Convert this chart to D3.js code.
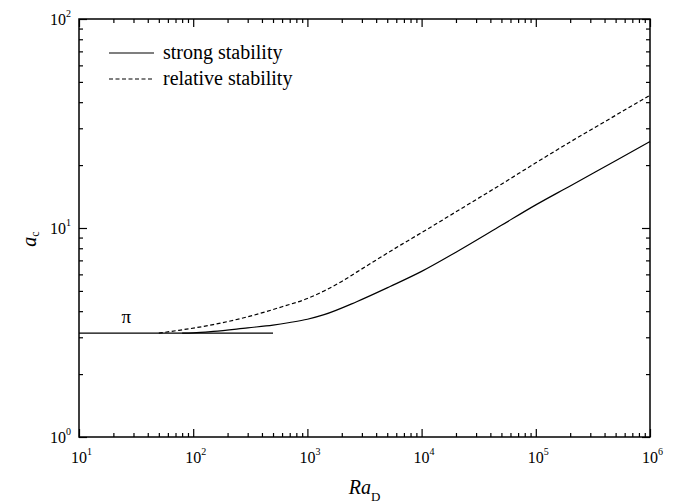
<!DOCTYPE html>
<html>
<head>
<meta charset="utf-8">
<script src="https://cdn.jsdelivr.net/npm/d3@7"></script>
<style>
  body { margin: 0; background: #fff; }
</style>
</head>
<body>
<div id="chart"></div>
<script>
// Data (Ra_D vs critical wavenumber a_c)
const strongRa = [80, 100, 150, 300, 500, 700, 1000, 1400, 2700, 5300, 10000, 20000, 50000, 100000, 200000, 500000, 1000000];
const strongA  = [3.1416, 3.15, 3.2, 3.33, 3.43, 3.53, 3.66, 3.85, 4.44, 5.25, 6.2, 7.66, 10.3, 12.9, 15.9, 21.0, 25.9];

const relativeRa = [50, 75, 150, 300, 600, 1000, 1400, 2000, 2700, 4300, 6700, 10000, 20000, 50000, 100000, 200000, 500000, 1000000];
const relativeA  = [3.1416, 3.24, 3.45, 3.76, 4.2, 4.6, 5.0, 5.55, 6.15, 7.2, 8.35, 9.5, 11.95, 16.2, 20.5, 25.8, 34.6, 43.2];

// horizontal asymptote a = pi
const piRa = [10, 500];
const piA  = [Math.PI, Math.PI];

const xMajor = [10, 100, 1e3, 1e4, 1e5, 1e6];
const yMajor = [1, 10, 100];

const legendLabels = ["strong stability", "relative stability"];

const FONT = "Liberation Serif, DejaVu Serif, Times New Roman, Times, serif";

const W = 675, H = 503;
const margin = { top: 19, right: 25, bottom: 66, left: 79 };
const width = W - margin.left - margin.right;   // 571
const height = H - margin.top - margin.bottom;  // 418

const svg = d3.select("#chart").append("svg")
    .attr("width", W)
    .attr("height", H)
    .style("font-family", FONT);

const x = d3.scaleLog().domain([10, 1e6]).range([margin.left, margin.left + width]);
const y = d3.scaleLog().domain([1, 100]).range([margin.top + height, margin.top]);

const xMinor = x.ticks().filter(v => !xMajor.includes(v));
const yMinor = y.ticks().filter(v => !yMajor.includes(v));

// inward ticks on all four sides
const addAxis = (axis, tx, ty) => {
    const g = svg.append("g")
        .attr("transform", `translate(${tx},${ty})`)
        .call(axis);
    g.select(".domain").remove();
    g.selectAll("line").attr("stroke", "#000").attr("stroke-width", 1.2);
    g.selectAll("text").remove();
};

const yb = margin.top + height, yt = margin.top;
const xl = margin.left, xr = margin.left + width;

addAxis(d3.axisBottom(x).tickValues(xMinor).tickSize(-4).tickSizeOuter(0), 0, yb);
addAxis(d3.axisBottom(x).tickValues(xMajor).tickSize(-8).tickSizeOuter(0), 0, yb);
addAxis(d3.axisTop(x).tickValues(xMinor).tickSize(-4).tickSizeOuter(0), 0, yt);
addAxis(d3.axisTop(x).tickValues(xMajor).tickSize(-8).tickSizeOuter(0), 0, yt);
addAxis(d3.axisLeft(y).tickValues(yMinor).tickSize(-4).tickSizeOuter(0), xl, 0);
addAxis(d3.axisLeft(y).tickValues(yMajor).tickSize(-8).tickSizeOuter(0), xl, 0);
addAxis(d3.axisRight(y).tickValues(yMinor).tickSize(-4).tickSizeOuter(0), xr, 0);
addAxis(d3.axisRight(y).tickValues(yMajor).tickSize(-8).tickSizeOuter(0), xr, 0);

// frame
svg.append("rect")
    .attr("x", xl).attr("y", yt)
    .attr("width", width).attr("height", height)
    .attr("fill", "none")
    .attr("stroke", "#000")
    .attr("stroke-width", 1.5);

// tick labels 10^n
xMajor.forEach(v => {
    const t = svg.append("text")
        .attr("x", x(v) - 8)
        .attr("y", yb + 26)
        .style("font-size", "16px")
        .text("10");
    t.append("tspan")
        .attr("dy", -8)
        .style("font-size", "10px")
        .text(Math.round(Math.log10(v)));
});

yMajor.forEach(v => {
    const t = svg.append("text")
        .attr("x", xl - 8)
        .attr("y", y(v) + 6)
        .attr("text-anchor", "end")
        .style("font-size", "16px")
        .text("10");
    t.append("tspan")
        .attr("dy", -8)
        .style("font-size", "10px")
        .text(Math.round(Math.log10(v)));
});

// axis titles
const xt = svg.append("text")
    .attr("x", (xl + xr) / 2)
    .attr("y", 494)
    .attr("text-anchor", "middle")
    .style("font-size", "20px");
xt.append("tspan").style("font-style", "italic").text("Ra");
xt.append("tspan").attr("dy", 7).style("font-size", "13px").text("D");

const ytl = svg.append("text")
    .attr("transform", "translate(36,239) rotate(-90)")
    .attr("text-anchor", "middle")
    .style("font-size", "20px");
ytl.append("tspan").style("font-style", "italic").text("a");
ytl.append("tspan").attr("dy", 3).style("font-size", "12px").text("c");

// curves
const line = d3.line()
    .x(d => x(d[0]))
    .y(d => y(d[1]))
    .curve(d3.curveMonotoneX);

svg.append("path")
    .datum(d3.zip(piRa, piA))
    .attr("d", line)
    .attr("fill", "none")
    .attr("stroke", "#000")
    .attr("stroke-width", 1.2);

svg.append("path")
    .datum(d3.zip(strongRa, strongA))
    .attr("d", line)
    .attr("fill", "none")
    .attr("stroke", "#000")
    .attr("stroke-width", 1.2);

svg.append("path")
    .datum(d3.zip(relativeRa, relativeA))
    .attr("d", line)
    .attr("fill", "none")
    .attr("stroke", "#000")
    .attr("stroke-width", 1.2)
    .attr("stroke-dasharray", "4,2.5");

// pi label
svg.append("text")
    .attr("x", x(26))
    .attr("y", y(Math.PI) - 10)
    .attr("text-anchor", "middle")
    .style("font-size", "19px")
    .text("π");

// legend
const legend = svg.append("g");
legendLabels.forEach((lab, i) => {
    const ly = 53 + i * 26;
    legend.append("line")
        .attr("x1", 109).attr("x2", 154)
        .attr("y1", ly).attr("y2", ly)
        .attr("stroke", "#000")
        .attr("stroke-width", 1.2)
        .attr("stroke-dasharray", i === 1 ? "4,2.5" : null);
    legend.append("text")
        .attr("x", 163)
        .attr("y", ly + 6)
        .style("font-size", "20px")
        .text(lab);
});
</script>
</body>
</html>
